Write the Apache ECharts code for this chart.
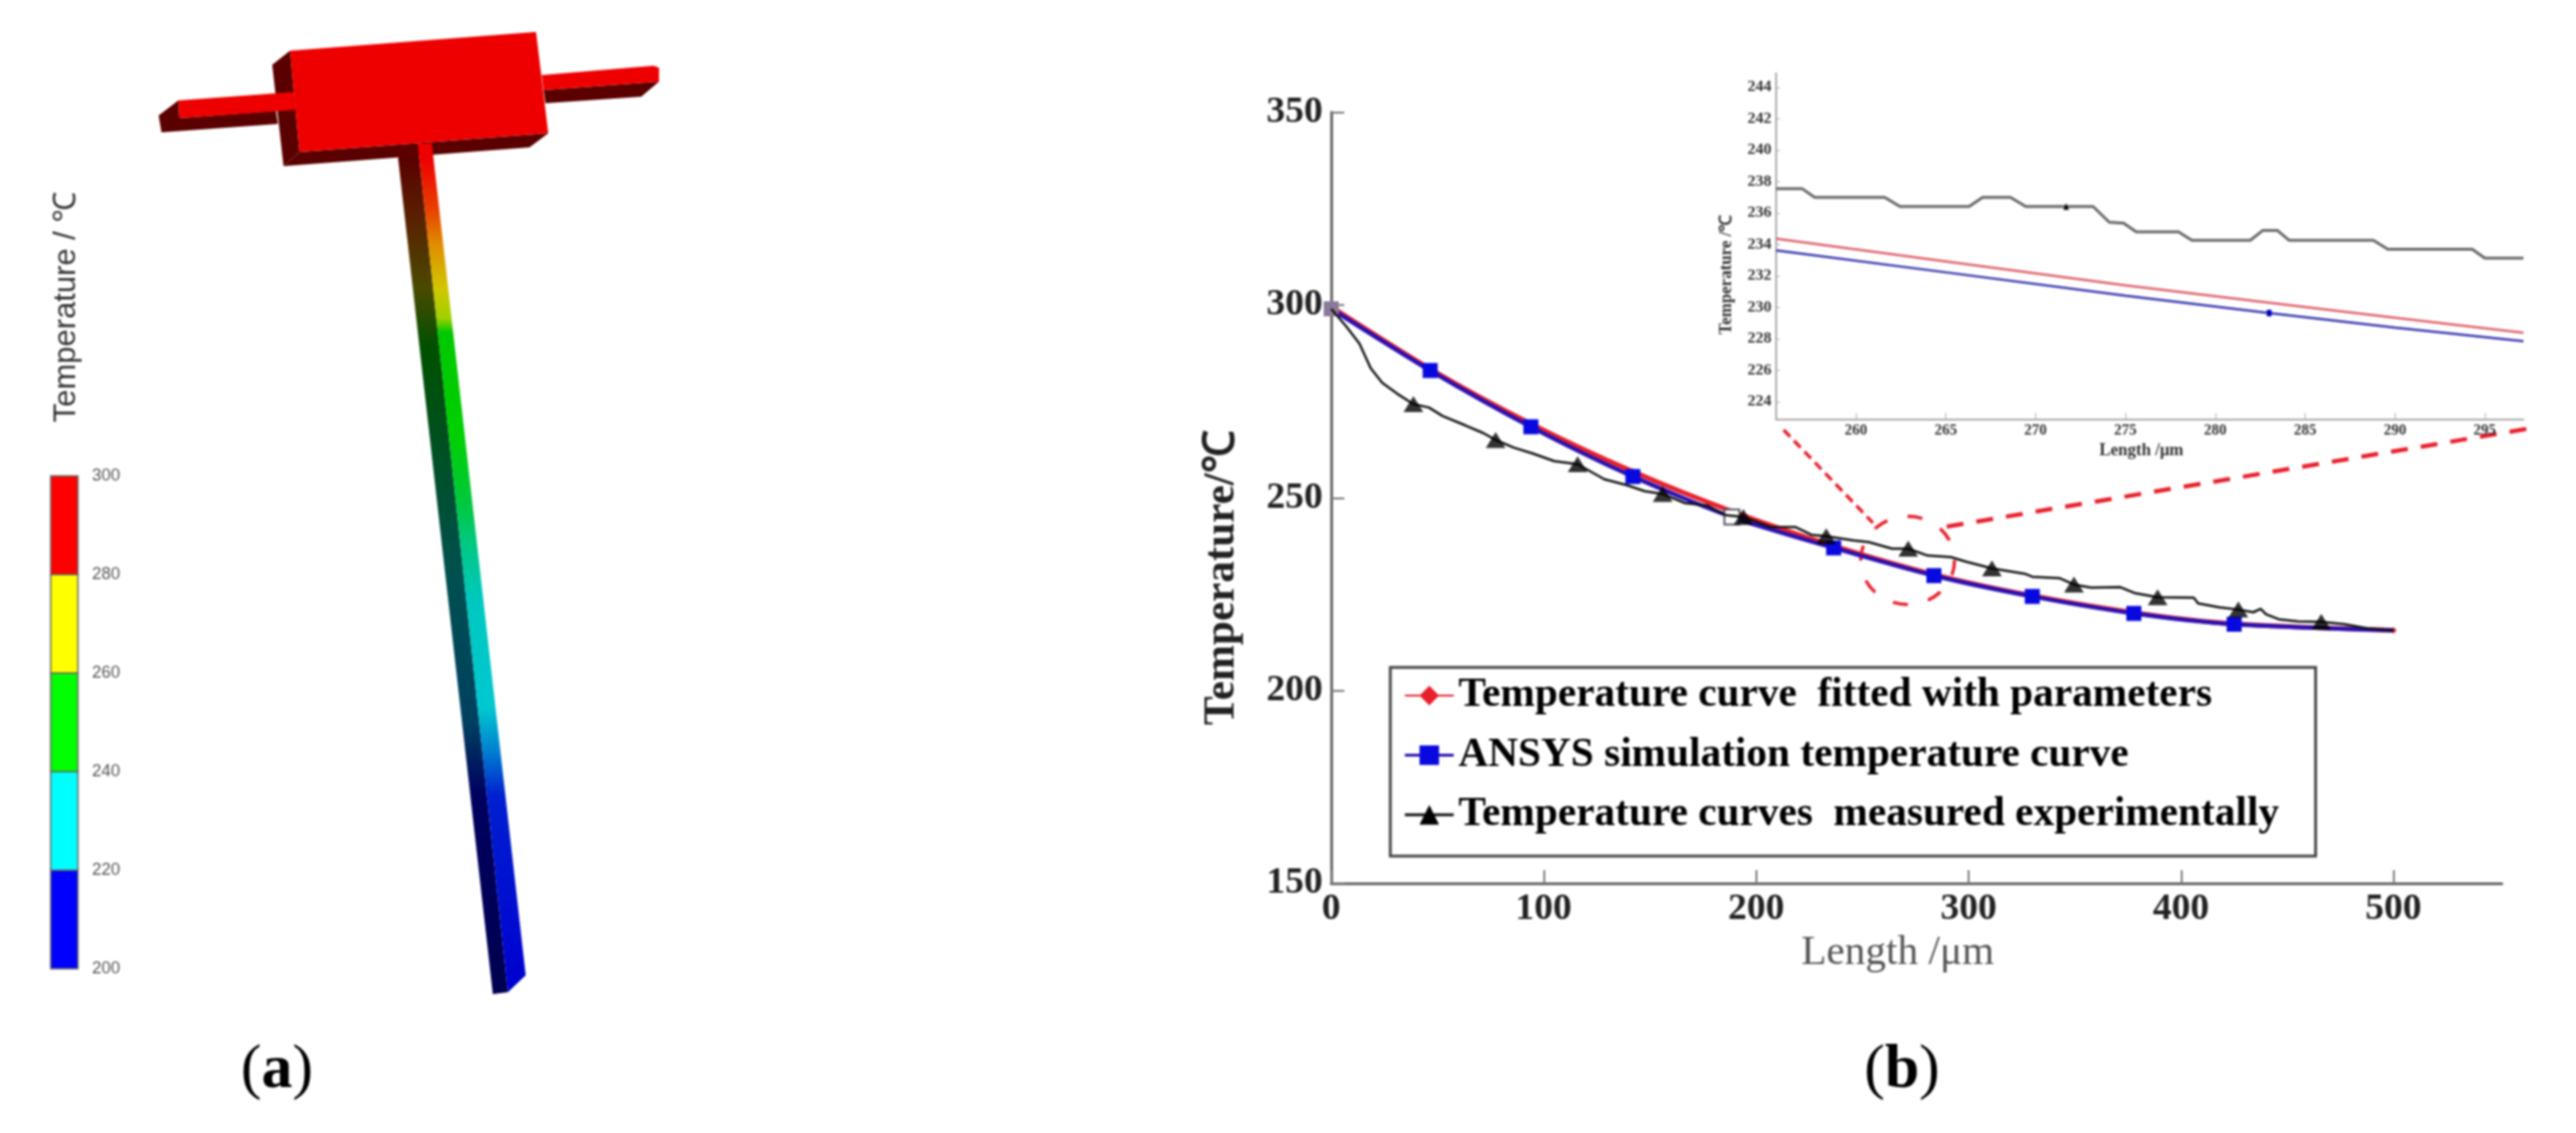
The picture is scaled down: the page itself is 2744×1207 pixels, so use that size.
<!DOCTYPE html>
<html><head><meta charset="utf-8">
<style>html,body{margin:0;padding:0;background:#fff}#c{width:2744px;height:1207px;filter:blur(1.1px)}</style>
<script src="https://cdn.jsdelivr.net/npm/echarts@6/dist/echarts.min.js"></script>
</head><body><div id="c"></div>
<script>
// ---------- data: main chart ----------
const fitLength = [0,46.6,94,142,189,236,283,330,378,425,500];
const fitTemp   = [299.5,283.4,269.2,256.8,246.4,237.6,230.2,224.6,220.2,217.3,215.6];
const simLength = [0,46.6,94,142,188.6,236.5,283.7,330,377.8,425,500];
const simTemp   = [299,283,268.4,255.5,245,237,229.8,224.4,220,217.2,215.6];
const expLength = [0,7,13.3,18.6,24,31,38.7,46,52.4,63,71.5,77.4,86,94.7,105,116,128.5,139,147.6,156,166.6,177,185.6,194,207,218.4,226,233,246,253,264,271.6,280.7,291.7,299,311,326.4,330,343,349.6,357.7,371.5,378,389,406,408,418,427,434,437.5,440,446,455,466,477,488,500];
const expTemp   = [299,294.5,290,283.6,279.8,277,274.3,273.4,271.2,268.8,266.8,265,263,261.5,259.5,258.7,254.8,253.3,251.7,251,248.6,248,245.5,245,242.4,242.4,240.4,240,238.9,238.5,236.8,236.8,235,234.6,233.4,231.7,230.3,229.5,229.1,227.5,226.7,226.8,225.3,224.2,224.1,222.6,221.6,221,220.3,221.2,219.8,218.5,217.9,217.8,217.2,216.1,215.6];
const expMarkLength = [38.7,77.4,116,156,194,233,271.6,311,349.6,389,427,466];
const expMarkTemp   = [274.3,265,258.7,251,245,240,236.8,231.7,227.5,224.2,221,217.8];
const mainXTicks = [0,100,200,300,400,500];
const names = ['Temperature curve  fitted with parameters','ANSYS simulation temperature curve','Temperature curves  measured experimentally'];
// ---------- data: inset ----------
const insetFitLength = [255.56,265,275,283,290,297.15];
const insetFitTemp   = [234.37,232.93,231.4,230.3,229.34,228.39];
const insetSimLength = [255.56,265,275,283,290,297.15];
const insetSimTemp   = [233.63,232.23,230.74,229.64,228.72,227.85];
const insetExpLength = [255.56,257,257.7,261.6,262.45,266.3,267.05,268.6,269.45,273.2,274.1,274.9,275.6,277.95,278.7,281.95,282.65,283.45,284.1,288.8,289.6,294.3,295,297.15];
const insetExpTemp   = [237.56,237.56,237,237,236.42,236.42,237,237,236.42,236.42,235.42,235.36,234.8,234.8,234.27,234.27,234.9,234.9,234.27,234.27,233.7,233.7,233.13,233.13];
const insetXTicks = [260,265,270,275,280,285,290,295];
const insetYTicks = [224,226,228,230,232,234,236,238,240,242,244];
// ---------- data: colour scale ----------
const bandLow  = [200,220,240,260,280];
const bandHigh = [220,240,260,280,300];
const bandColors = ['#0000ff','#00ffff','#00ff00','#ffff00','#ff0000'];

const zip = (a,b)=>a.map((v,i)=>[v,b[i]]);
const serif='"Liberation Serif","Times New Roman",serif';
const sans='"Liberation Sans",Arial,sans-serif';
const RED='#e8202c', DARKRED='#5a0000', BRIGHT='#ee0000';

// ---------- illustration (a): beam model, not data ----------
const poly=(points,fill)=>({type:'polygon',shape:{points},style:{fill}});
function vGrad(top,bottom,stops){
  return new echarts.graphic.LinearGradient(0,0,0,1,stops.map(s=>({offset:Math.min(1,Math.max(0,(s[0]-top)/(bottom-top))),color:s[1]})));
}
const brightStops=[[169,'#ee0000'],[223,'#e84000'],[262,'#e09000'],[308,'#d0c800'],[339,'#a0d000'],[354,'#00c800'],[462,'#00d000'],[539,'#00c840'],[577,'#00c880'],[639,'#00c8c0'],[754,'#00c8d0'],[800,'#0080d0'],[847,'#0020d0'],[1056,'#0000d0']];
const darkStops=[[169,'#5a0000'],[231,'#5a2000'],[308,'#4a4a00'],[370,'#005000'],[616,'#005050'],[770,'#004060'],[847,'#000060'],[1059,'#000050']];
const model=[
  poly([[290,69],[309,54],[319,162],[302,177]],DARKRED),
  poly([[319,162],[584,142],[564,157],[302,177]],DARKRED),
  poly([[169,123],[190,107],[191,126],[294,118],[296,132],[172,141]],DARKRED),
  poly([[190,107],[313,98],[315,117],[191,126]],BRIGHT),
  poly([[579,96],[702,87],[683,103],[581,110]],DARKRED),
  poly([[577,80],[696,70],[702,72],[702,87],[579,96]],BRIGHT),
  poly([[309,54],[571,34],[584,142],[319,162]],BRIGHT),
  poly([[424,168],[445,153],[541,1057],[525,1059]],vGrad(153,1059,darkStops)),
  poly([[445,153],[460,153],[560,1039],[541,1057]],vGrad(153,1057,brightStops))
];
const caption=(letter,x,y)=>({type:'text',x,y,style:{text:`{n|(}{b|${letter}}{n|)}`,align:'center',verticalAlign:'middle',rich:{n:{font:`66px ${serif}`,fill:'#000'},b:{font:`bold 66px ${serif}`,fill:'#000'}}}});
const dash=(shape,w,d)=>({type:'line',shape,style:{stroke:RED,lineWidth:w,lineDash:d}});

const graphic=[...model,
  {type:'text',x:71,y:327,rotation:Math.PI/2,style:{text:'Temperature / ℃',font:`33px ${sans}`,fill:'#333',align:'center',verticalAlign:'middle'}},
  caption('a',295,1141),caption('b',2026,1141),
  dash({x1:1900,y1:458,x2:1995,y2:557},3.5,[10,6]),
  dash({x1:2691,y1:457,x2:2068,y2:562},4.5,[18,14]),
  {type:'ellipse',shape:{cx:2032,cy:597,rx:50,ry:47},style:{fill:null,stroke:RED,lineWidth:3.5,lineDash:[16,22]}}
];

const chart=echarts.init(document.getElementById('c'),null,{renderer:'canvas'});
const lastSim=simLength.length-1;
chart.setOption({
  backgroundColor:'#fff',animation:false,
  graphic,
  legend:{left:1481,top:711,orient:'vertical',
    padding:[8,39,22,14],itemGap:19.5,itemWidth:52,itemHeight:26,
    borderColor:'#444',borderWidth:3,backgroundColor:'#fff',
    textStyle:{fontFamily:serif,fontWeight:'bold',fontSize:44,color:'#000'},
    selectedMode:false,
    data:[{name:names[0],lineStyle:{width:2}},{name:names[1],lineStyle:{width:3}},{name:names[2],lineStyle:{width:3}}]},
  grid:[
    {left:1418,top:119.5,width:1247,height:821.5},
    {left:1892,top:78,width:796,height:369},
    {left:54,top:507,width:29,height:525}
  ],
  xAxis:[
    {gridIndex:0,type:'value',min:0,max:551,name:'Length /μm',nameLocation:'middle',nameGap:52,
     nameTextStyle:{fontFamily:serif,fontSize:44,color:'#555',padding:[0,40,0,0]},
     axisLine:{lineStyle:{color:'#666',width:3}},splitLine:{show:false},
     axisTick:{inside:true,length:14,customValues:mainXTicks,lineStyle:{color:'#777',width:2}},
     axisLabel:{customValues:mainXTicks,margin:8,fontFamily:serif,fontWeight:'bold',fontSize:40,color:'#222'}},
    {gridIndex:1,type:'value',min:255.56,max:297.15,name:'Length /μm',nameLocation:'middle',nameGap:24,
     nameTextStyle:{fontFamily:serif,fontSize:18,fontWeight:'bold',color:'#333',padding:[0,18,0,0]},
     axisLine:{lineStyle:{color:'#aaa',width:2}},splitLine:{show:false},
     axisTick:{inside:true,length:7,customValues:insetXTicks,lineStyle:{color:'#aaa',width:1}},
     axisLabel:{customValues:insetXTicks,margin:4,fontFamily:serif,fontWeight:'bold',fontSize:16,color:'#333'}},
    {gridIndex:2,type:'value',min:0,max:1,show:false}
  ],
  yAxis:[
    {gridIndex:0,type:'value',min:150,max:350,interval:50,name:'Temperature/℃',nameLocation:'middle',nameGap:93,
     nameTextStyle:{fontFamily:serif,fontWeight:'bold',fontSize:46,color:'#222',padding:[0,170,0,0]},
     axisLine:{show:true,lineStyle:{color:'#666',width:3}},splitLine:{show:false},
     axisTick:{show:true,inside:true,length:14,lineStyle:{color:'#777',width:2}},
     axisLabel:{margin:9,fontFamily:serif,fontWeight:'bold',fontSize:40,color:'#222'}},
    {gridIndex:1,type:'value',min:222.86,max:244.9,name:'Temperature /℃',nameLocation:'middle',nameGap:44,
     nameTextStyle:{fontFamily:serif,fontSize:18,fontWeight:'bold',color:'#333',padding:[0,60,0,0]},
     axisLine:{show:true,lineStyle:{color:'#aaa',width:2}},splitLine:{show:false},
     axisTick:{show:true,inside:true,length:4,customValues:insetYTicks,lineStyle:{color:'#aaa',width:1}},
     axisLabel:{customValues:insetYTicks,margin:5,fontFamily:serif,fontWeight:'bold',fontSize:17,color:'#333'}},
    {gridIndex:2,type:'value',position:'right',min:200,max:300,interval:20,
     axisLine:{show:false},axisTick:{show:false},splitLine:{show:false},
     axisLabel:{margin:15,fontFamily:sans,fontSize:18,color:'#555'}}
  ],
  series:[
    {type:'custom',name:'Temperature scale',xAxisIndex:2,yAxisIndex:2,clip:false,
     data:zip(bandLow,bandHigh),
     renderItem:(params,api)=>{
       const a=api.coord([0,api.value(0)]),b=api.coord([1,api.value(1)]);
       return {type:'rect',shape:{x:a[0],y:b[1],width:b[0]-a[0],height:a[1]-b[1]},
         style:{fill:bandColors[params.dataIndex],stroke:'#666',lineWidth:1.5}};
     }},
    {type:'line',name:names[0],data:zip(fitLength,fitTemp),smooth:0.25,symbol:'diamond',symbolSize:7,
     lineStyle:{color:RED,width:5},itemStyle:{color:RED},z:3},
    {type:'line',name:names[1],
     data:zip(simLength,simTemp).map((p,i)=>
       i===0?{value:p,itemStyle:{color:'#8a7a9a'}}:
       i===4?{value:p,itemStyle:{color:'#fff',borderColor:'#556',borderWidth:2}}:
       i===lastSim?{value:p,symbol:'none'}:p),
     smooth:0.25,symbol:'rect',symbolSize:16,
     lineStyle:{color:'#2a10b0',width:4.5},itemStyle:{color:'#0808e0'},z:4},
    {type:'line',name:names[2],data:zip(expLength,expTemp),showSymbol:false,symbol:'triangle',symbolSize:[20,17],
     lineStyle:{color:'#111',width:2.5},itemStyle:{color:'#000'},z:5},
    {type:'scatter',name:'Measured markers',data:zip(expMarkLength,expMarkTemp),symbol:'triangle',symbolSize:[21,17],
     itemStyle:{color:'#000'},z:6},
    {type:'line',name:'Inset fitted',xAxisIndex:1,yAxisIndex:1,data:zip(insetFitLength,insetFitTemp),showSymbol:false,
     lineStyle:{color:'#e0606a',width:2.5}},
    {type:'line',name:'Inset simulation',xAxisIndex:1,yAxisIndex:1,data:zip(insetSimLength,insetSimTemp),showSymbol:false,
     lineStyle:{color:'#3838b0',width:2.5},
     markPoint:{symbol:'rect',symbolSize:[5,7],itemStyle:{color:'#0000c0'},label:{show:false},data:[{coord:[283,229.64]}]}},
    {type:'line',name:'Inset measured',xAxisIndex:1,yAxisIndex:1,data:zip(insetExpLength,insetExpTemp),showSymbol:false,
     lineStyle:{color:'#666',width:3},
     markPoint:{symbol:'triangle',symbolSize:[6,7],itemStyle:{color:'#000'},label:{show:false},data:[{coord:[271.7,236.42]}]}}
  ]
});
</script></body></html>
